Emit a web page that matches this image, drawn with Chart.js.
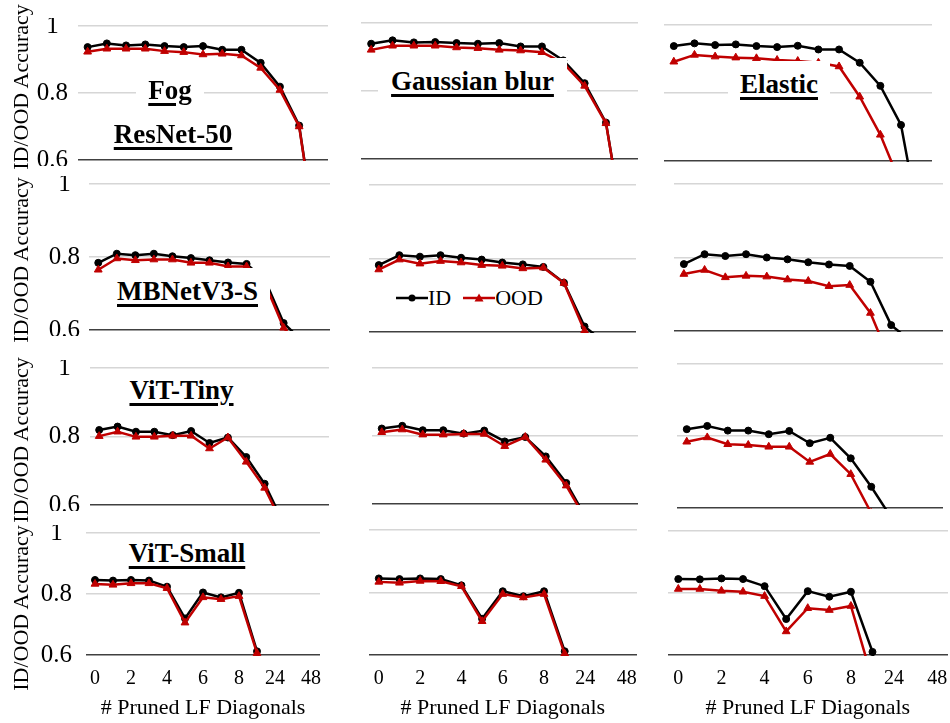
<!DOCTYPE html>
<html>
<head>
<meta charset="utf-8">
<script src="https://cdn.jsdelivr.net/npm/chart.js@4.4.1/dist/chart.umd.min.js"></script>
<style>
  body { margin: 0; background: #fff; }
  #wrap { position: relative; width: 950px; height: 723px; overflow: hidden; font-family: "Liberation Serif", "Times New Roman", serif; color: #000; }
  canvas { position: absolute; }
  .lbl { position: absolute; background: #fff; display: flex; align-items: center; justify-content: center; z-index: 2; }
  .lbl span { font-weight: bold; font-size: 27px; text-decoration: underline; text-decoration-thickness: 3px; text-underline-offset: 4px; white-space: nowrap; }
  .ytitle { position: absolute; font-size: 22px; white-space: nowrap; transform: translate(-50%, -50%) rotate(-90deg); z-index: 2; }
  #legend { position: absolute; left: 396px; top: 284px; height: 28px; display: flex; align-items: center; background: #fff; font-size: 22px; z-index: 2; }
</style>
</head>
<body>
<div id="wrap">
  <div id="legend">
    <svg width="32" height="12"><line x1="0" y1="6" x2="32" y2="6" stroke="#000" stroke-width="2.5"/><circle cx="16" cy="6" r="3.5" fill="#000"/></svg>
    <span>ID</span>
    <svg width="32" height="12" style="margin-left:12px"><line x1="0" y1="6" x2="32" y2="6" stroke="#C00000" stroke-width="2.5"/><polygon points="16,1.5 20.5,9.5 11.5,9.5" fill="#C00000"/></svg>
    <span>OOD</span>
  </div>
</div>
<script>
// x categories (# pruned low-frequency diagonals), every other one labelled
const categories = ['0', '1', '2', '3', '4', '5', '6', '7', '8', '16', '24', '32', '48'];
const yTicks = [0.6, 0.8, 1];

// ResNet-50
const fogResNetID = [0.937, 0.948, 0.942, 0.945, 0.940, 0.937, 0.940, 0.929, 0.929, 0.890, 0.819, 0.703, 0.32];
const fogResNetOOD = [0.923, 0.932, 0.932, 0.932, 0.925, 0.922, 0.915, 0.917, 0.912, 0.875, 0.809, 0.700, 0.32];
const blurResNetID = [0.939, 0.949, 0.943, 0.944, 0.941, 0.939, 0.941, 0.931, 0.931, 0.890, 0.823, 0.707, 0.33];
const blurResNetOOD = [0.921, 0.933, 0.933, 0.933, 0.928, 0.926, 0.921, 0.919, 0.914, 0.882, 0.815, 0.705, 0.33];
const elasticResNetID = [0.938, 0.946, 0.941, 0.943, 0.938, 0.935, 0.939, 0.928, 0.928, 0.889, 0.821, 0.706, 0.38];
const elasticResNetOOD = [0.892, 0.912, 0.907, 0.904, 0.902, 0.897, 0.894, 0.889, 0.878, 0.789, 0.677, 0.53, null];

// MobileNetV3-Small
const fogMBNetID = [0.784, 0.809, 0.805, 0.809, 0.802, 0.797, 0.791, 0.785, 0.781, 0.736, 0.619, 0.57, null];
const fogMBNetOOD = [0.765, 0.796, 0.791, 0.793, 0.793, 0.784, 0.784, 0.774, 0.774, 0.727, 0.606, 0.55, null];
const blurMBNetID = [0.782, 0.809, 0.805, 0.809, 0.802, 0.797, 0.789, 0.784, 0.777, 0.734, 0.615, 0.57, null];
const blurMBNetOOD = [0.770, 0.797, 0.786, 0.793, 0.789, 0.782, 0.780, 0.773, 0.775, 0.733, 0.603, 0.55, null];
const elasticMBNetID = [0.782, 0.809, 0.804, 0.809, 0.800, 0.795, 0.787, 0.781, 0.777, 0.734, 0.616, 0.57, null];
const elasticMBNetOOD = [0.755, 0.766, 0.746, 0.750, 0.748, 0.740, 0.736, 0.722, 0.725, 0.649, 0.515, null, null];

// ViT-Tiny
const fogTinyID = [0.819, 0.829, 0.814, 0.814, 0.804, 0.816, 0.781, 0.797, 0.740, 0.662, 0.55, null, null];
const fogTinyOOD = [0.801, 0.814, 0.799, 0.799, 0.802, 0.802, 0.765, 0.797, 0.726, 0.650, 0.54, null, null];
const blurTinyID = [0.822, 0.830, 0.817, 0.817, 0.807, 0.816, 0.784, 0.797, 0.740, 0.662, 0.556, null, null];
const blurTinyOOD = [0.811, 0.819, 0.804, 0.804, 0.806, 0.806, 0.770, 0.797, 0.730, 0.654, 0.55, null, null];
const elasticTinyID = [0.819, 0.828, 0.815, 0.815, 0.805, 0.814, 0.780, 0.795, 0.738, 0.659, 0.571, null, null];
const elasticTinyOOD = [0.784, 0.796, 0.777, 0.775, 0.770, 0.770, 0.728, 0.750, 0.694, 0.586, 0.47, null, null];

// ViT-Small
const fogSmallID = [0.846, 0.844, 0.846, 0.844, 0.824, 0.720, 0.805, 0.789, 0.804, 0.612, 0.1, null, null];
const fogSmallOOD = [0.833, 0.830, 0.835, 0.835, 0.819, 0.706, 0.789, 0.783, 0.793, 0.606, 0.1, null, null];
const blurSmallID = [0.845, 0.843, 0.845, 0.843, 0.823, 0.716, 0.804, 0.788, 0.804, 0.612, 0.1, null, null];
const blurSmallOOD = [0.834, 0.831, 0.837, 0.836, 0.820, 0.708, 0.795, 0.784, 0.795, 0.604, 0.1, null, null];
const elasticSmallID = [0.845, 0.844, 0.847, 0.845, 0.822, 0.716, 0.806, 0.788, 0.804, 0.610, 0.1, null, null];
const elasticSmallOOD = [0.813, 0.813, 0.807, 0.804, 0.790, 0.676, 0.751, 0.745, 0.758, 0.52, null, null, null];

const seriesNames = ['ID', 'OOD'];
const yTitle = 'ID/OOD Accuracy';
const xTitle = '# Pruned LF Diagonals';

// plot areas: [left, top (y=1), right, bottom (y=0.6)]
const panels = [
  [fogResNetID, fogResNetOOD, [78, 26, 328, 160]],
  [blurResNetID, blurResNetOOD, [355, 23, 638, 159]],
  [elasticResNetID, elasticResNetOOD, [658, 25, 932, 161]],
  [fogMBNetID, fogMBNetOOD, [89, 184, 330, 330]],
  [blurMBNetID, blurMBNetOOD, [363, 185, 636, 332]],
  [elasticMBNetID, elasticMBNetOOD, [668, 184, 943, 331]],
  [fogTinyID, fogTinyOOD, [90, 368, 329, 505]],
  [blurTinyID, blurTinyOOD, [366, 368, 638, 504]],
  [elasticTinyID, elasticTinyOOD, [671, 364, 943, 508]],
  [fogSmallID, fogSmallOOD, [86, 533, 320, 655]],
  [blurSmallID, blurSmallOOD, [363, 530, 637, 655]],
  [elasticSmallID, elasticSmallOOD, [662, 531, 948, 655]]
];
const yTickPad = [10, 9, 10, 14];

// title boxes (white, they hide the lines behind them)
const labels = [
  ['Fog', 136, 76, 68, 28],
  ['ResNet-50', 104, 119, 138, 30],
  ['Gaussian blur', 378, 58, 189, 46],
  ['Elastic', 728, 61, 102, 46],
  ['MBNetV3-S', 105, 268, 165, 46],
  ['ViT-Tiny', 118, 374, 127, 32],
  ['ViT-Small', 116, 537, 142, 32]
];
const yTitleCenters = [87, 260, 440, 608];

const wrap = document.getElementById('wrap');
const font = 'Liberation Serif';

// axis line at 0.6 is dark, the other gridlines light grey
function gridColor(c) {
    return c.tick && c.tick.value === yTicks[0] ? '#404040' : '#d6d6d6';
}

panels.forEach((p, n) => {
    const row = Math.floor(n / 3), col = n % 3;
    const [L, T, R, B] = p[2];
    const first = col === 0, last = row === 3;
    const yW = first ? L : 0;
    const pt = 8, pr = 6, pb = last ? 0 : 6, xH = last ? 70 : 0;

    const canvas = document.createElement('canvas');
    const w = R - L + yW + pr, h = B - T + pt + xH + pb;
    canvas.width = w;
    canvas.height = h;
    canvas.style.width = w + 'px';
    canvas.style.height = h + 'px';
    canvas.style.left = (L - yW) + 'px';
    canvas.style.top = (T - pt) + 'px';
    wrap.appendChild(canvas);

    new Chart(canvas.getContext('2d'), {
        type: 'line',
        data: {
            labels: categories,
            datasets: [{
                label: seriesNames[0],
                data: p[0],
                order: 1,
                borderColor: '#000',
                backgroundColor: '#000',
                borderWidth: 2.5,
                pointStyle: 'circle',
                pointRadius: 3.5,
                pointBorderWidth: 1,
                tension: 0,
                clip: { left: false, top: false, right: false, bottom: 1 }
            }, {
                label: seriesNames[1],
                data: p[1],
                order: 0,
                borderColor: '#C00000',
                backgroundColor: '#C00000',
                borderWidth: 2.5,
                pointStyle: 'triangle',
                pointRadius: 4.5,
                pointBorderWidth: 1,
                tension: 0,
                clip: { left: false, top: false, right: false, bottom: 1 }
            }]
        },
        options: {
            responsive: false,
            animation: false,
            devicePixelRatio: 1,
            layout: { padding: { top: pt, right: pr, bottom: pb, left: 0 } },
            plugins: { legend: { display: false }, tooltip: { enabled: false } },
            scales: {
                x: {
                    offset: true,
                    grid: { display: false, drawTicks: false },
                    border: { display: false },
                    ticks: {
                        display: last,
                        autoSkip: false,
                        maxRotation: 0,
                        padding: 12,
                        color: '#000',
                        font: { family: font, size: 20 },
                        callback: (v, i) => i % 2 === 0 ? categories[i] : ''
                    },
                    title: {
                        display: last,
                        text: xTitle,
                        color: '#000',
                        font: { family: font, size: 22 },
                        padding: { top: 0, bottom: 4 }
                    },
                    afterFit: s => {
                        s.height = xH;
                        s.paddingLeft = 0;
                        s.paddingRight = 0;
                    }
                },
                y: {
                    min: yTicks[0],
                    max: yTicks[yTicks.length - 1],
                    afterBuildTicks: s => { s.ticks = yTicks.map(v => ({ value: v })); },
                    ticks: {
                        autoSkip: false,
                        crossAlign: 'center',
                        padding: yTickPad[row],
                        color: first ? '#000' : 'rgba(0,0,0,0)',
                        font: { family: font, size: 25 },
                        callback: v => String(v)
                    },
                    grid: {
                        drawTicks: false,
                        color: gridColor,
                        lineWidth: 1.5
                    },
                    border: { display: false },
                    afterFit: s => {
                        s.width = yW;
                        s.paddingTop = 0;
                        s.paddingBottom = 0;
                    }
                }
            }
        }
    });
});

labels.forEach(l => {
    const d = document.createElement('div');
    d.className = 'lbl';
    d.style.left = l[1] + 'px';
    d.style.top = l[2] + 'px';
    d.style.width = l[3] + 'px';
    d.style.height = l[4] + 'px';
    const s = document.createElement('span');
    s.textContent = l[0];
    d.appendChild(s);
    wrap.appendChild(d);
});

yTitleCenters.forEach(cy => {
    const d = document.createElement('div');
    d.className = 'ytitle';
    d.style.left = '21px';
    d.style.top = cy + 'px';
    d.textContent = yTitle;
    wrap.appendChild(d);
});
</script>
</body>
</html>
